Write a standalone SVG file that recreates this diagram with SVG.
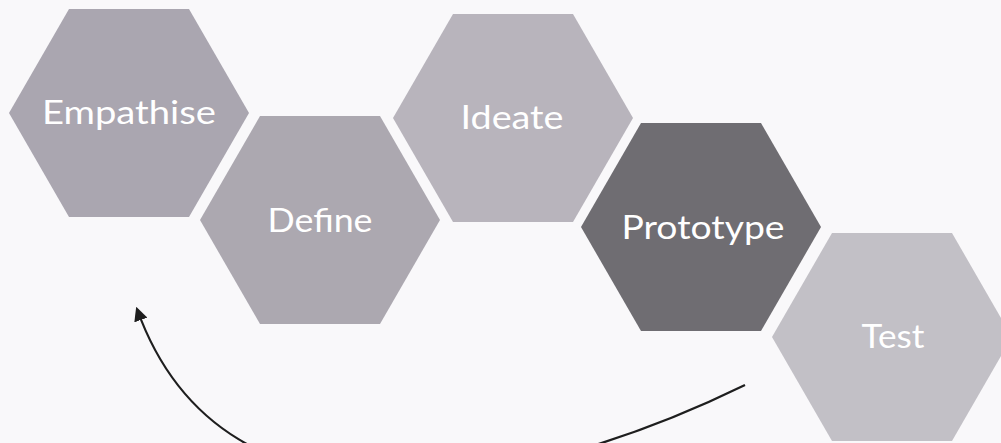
<svg xmlns="http://www.w3.org/2000/svg" width="1001" height="443" viewBox="0 0 1001 443">
  <style>
    .hex { stroke: none; }
    .lbl { font-family: "Lato", "Liberation Sans", sans-serif; font-size: 32px; fill: #ffffff; text-anchor: middle; }
    .conn { fill: none; stroke: #1e1e1e; stroke-width: 2.2; }
  </style>
  <defs>
    <marker id="arrow" viewBox="0 0 12 12" refX="10" refY="6" markerWidth="14" markerHeight="14" markerUnits="userSpaceOnUse" orient="auto">
      <path d="M0,0 L12,6 L0,12 Z" fill="#1e1e1e"/>
    </marker>
  </defs>
  <rect width="1001" height="443" fill="#f9f8fa"/>
  <g id="empathise">
    <polygon class="hex" points="9,113 69,9 189,9 249,113 189,217 69,217" fill="#aaa6b0"/>
    <text class="lbl" x="129" y="124" textLength="174" lengthAdjust="spacingAndGlyphs">Empathise</text>
  </g>
  <g id="define">
    <polygon class="hex" points="200,220 260,116 380,116 440,220 380,324 260,324" fill="#aca8b0"/>
    <text class="lbl" x="320" y="232" textLength="105" lengthAdjust="spacingAndGlyphs">Define</text>
  </g>
  <g id="ideate">
    <polygon class="hex" points="393,118 453,14 573,14 633,118 573,222 453,222" fill="#b8b4bc"/>
    <text class="lbl" x="512" y="129" textLength="103" lengthAdjust="spacingAndGlyphs">Ideate</text>
  </g>
  <g id="prototype">
    <polygon class="hex" points="581,227 641,123 761,123 821,227 761,331 641,331" fill="#6f6d72"/>
    <text class="lbl" x="703" y="239" textLength="163" lengthAdjust="spacingAndGlyphs">Prototype</text>
  </g>
  <g id="test">
    <polygon class="hex" points="772,337 832,233 952,233 1012,337 952,441 832,441" fill="#c2c0c6"/>
    <text class="lbl" x="893" y="348" textLength="63" lengthAdjust="spacingAndGlyphs">Test</text>
  </g>
  <g id="connectors">
    <path class="conn" d="M745,385 C530,490 225,555 137,309" marker-end="url(#arrow)"/>
  </g>
</svg>
